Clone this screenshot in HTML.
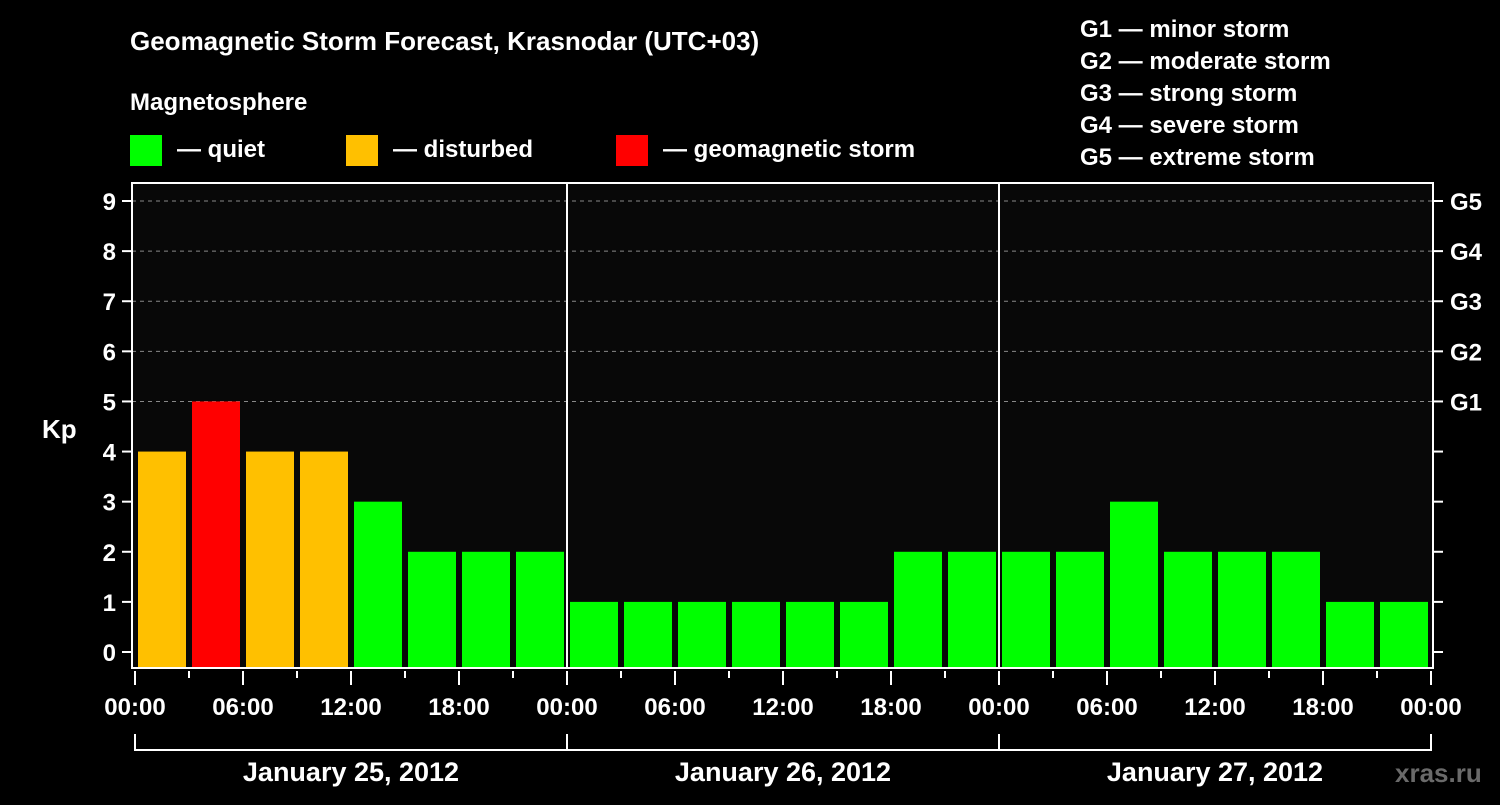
<!DOCTYPE html>
<html><head><meta charset="utf-8"><style>
body{margin:0;background:#000;width:1500px;height:800px;overflow:hidden}
text{font-family:"Liberation Sans",Arial,sans-serif;font-weight:bold;fill:#fff}
</style></head><body>
<svg id="chart" width="1500" height="800" xmlns="http://www.w3.org/2000/svg">
<rect width="1500" height="800" fill="#000"/>
<text x="130" y="50" font-size="26">Geomagnetic Storm Forecast, Krasnodar (UTC+03)</text>
<text x="130" y="110" font-size="24">Magnetosphere</text>
<g>
<rect x="130" y="135" width="32" height="31" fill="#00ff00"/>
<text x="177" y="157" font-size="24">— quiet</text>
<rect x="346" y="135" width="32" height="31" fill="#ffc000"/>
<text x="393" y="157" font-size="24">— disturbed</text>
<rect x="616" y="135" width="32" height="31" fill="#ff0000"/>
<text x="663" y="157" font-size="24">— geomagnetic storm</text>
</g>
<g font-size="24">
<text x="1080" y="37">G1 — minor storm</text>
<text x="1080" y="69">G2 — moderate storm</text>
<text x="1080" y="101">G3 — strong storm</text>
<text x="1080" y="133">G4 — severe storm</text>
<text x="1080" y="165">G5 — extreme storm</text>
</g>
<rect x="132" y="183" width="1301" height="485" fill="#080808"/>
<g id="grid"></g><g id="bars"></g><g id="axes"></g>
<text x="42" y="438" font-size="26">Kp</text>
<text x="1395" y="782" font-size="26" fill="#666" style="fill:#6a6a6a">xras.ru</text>
</svg>
<script>
const kpValues=[4,5,4,4,3,2,2,2,1,1,1,1,1,1,2,2,2,2,3,2,2,2,1,1];
const yTicks=[0,1,2,3,4,5,6,7,8,9];
const gLabels=["G1","G2","G3","G4","G5"];
const hourLabels=["00:00","06:00","12:00","18:00"];
const dayLabels=["January 25, 2012","January 26, 2012","January 27, 2012"];
const NS="http://www.w3.org/2000/svg";
const X0=135,HOURW=18,Y0=652,UNIT=50.11,BOTTOM=668;
const xs=h=>X0+h*HOURW, ys=v=>Y0-v*UNIT;
function mk(tag,attrs,parent,txt){const e=document.createElementNS(NS,tag);for(const k in attrs)e.setAttribute(k,attrs[k]);if(txt!==undefined)e.textContent=txt;parent.appendChild(e);return e;}
const grid=document.getElementById('grid'),bars=document.getElementById('bars'),axes=document.getElementById('axes');
yTicks.forEach(v=>{
 if(v>=5){const l=mk('line',{x1:132,x2:1433,y1:ys(v),y2:ys(v),stroke:'#888','stroke-dasharray':'4,4','stroke-width':1},grid);
 
 }
 const t=mk('line',{x1:122,x2:132,y1:ys(v),y2:ys(v),stroke:'#fff','stroke-width':2},axes);
 
 
 const t2=mk('line',{x1:1433,x2:1443,y1:ys(v),y2:ys(v),stroke:'#fff','stroke-width':2},axes);
 
 
 const lb=mk('text',{x:116,y:ys(v)+9,'font-size':24,'text-anchor':'end'},axes,String(v));
 
 
});
gLabels.forEach((g,i)=>{
 const lb=mk('text',{x:1450,y:ys(5+i)+9,'font-size':24},axes,g);
 
 
});
kpValues.forEach((v,i)=>{
 const c=v>=5?'#ff0000':v>=4?'#ffc000':'#00ff00';
 const top=ys(v);
 const r=mk('rect',{x:xs(i*3)+3,y:top,width:HOURW*3-6,height:BOTTOM-top,fill:c},bars);
 
 
});
// day dividers
[1,2].forEach(d=>{
 const l=mk('line',{x1:xs(d*24),x2:xs(d*24),y1:183,y2:668,stroke:'#fff','stroke-width':2},axes);
 
 
});
const fr=mk('rect',{x:132,y:183,width:1301,height:485,fill:'none',stroke:'#fff','stroke-width':2},axes);


for(let h=0;h<=72;h+=3){
 const major=h%6===0;
 const t=mk('line',{x1:xs(h),x2:xs(h),y1:671,y2:major?685:678,stroke:'#fff','stroke-width':2},axes);
 
 
 if(major){
  const lb=mk('text',{x:xs(h),y:715,'font-size':24,'text-anchor':'middle'},axes,hourLabels[(h/6)%4]);
  
  
 }
}
const br=mk('path',{d:`M${xs(0)} 734V750H${xs(72)}V734`,fill:'none',stroke:'#fff','stroke-width':2},axes);


[1,2].forEach(d=>{
 const l=mk('line',{x1:xs(d*24),x2:xs(d*24),y1:734,y2:750,stroke:'#fff','stroke-width':2},axes);
 
 
});
dayLabels.forEach((d,i)=>{
 const lb=mk('text',{x:xs(i*24+12),y:781,'font-size':27,'text-anchor':'middle'},axes,d);
 
 
});
</script>
</body></html>
